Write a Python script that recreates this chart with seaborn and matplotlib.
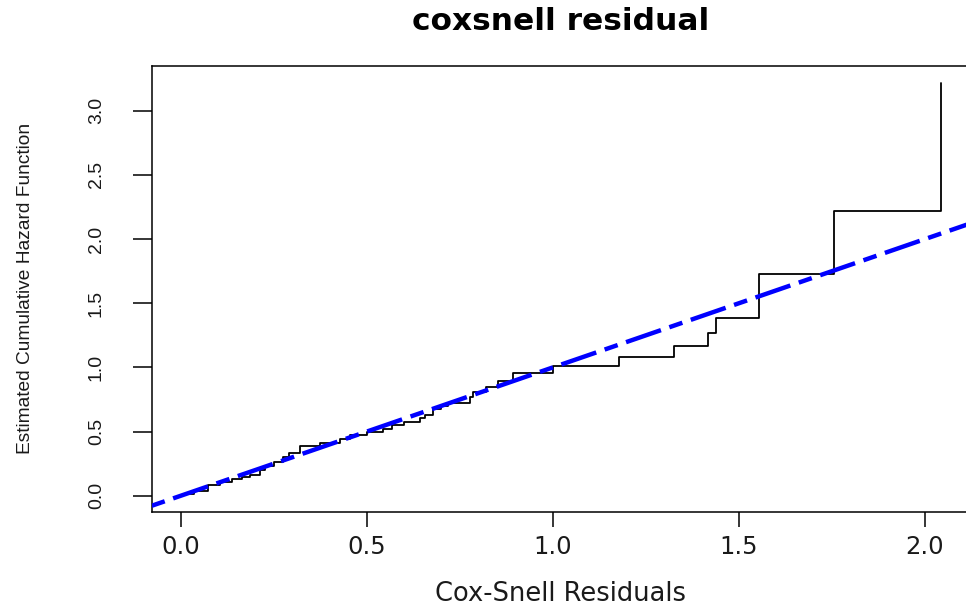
import matplotlib
matplotlib.use("Agg")
import matplotlib.pyplot as plt
from matplotlib import font_manager
import seaborn as sns

# Nelson-Aalen style cumulative hazard of the Cox-Snell residuals
residual_times = [0.010, 0.035, 0.073, 0.105, 0.136, 0.163, 0.185, 0.212, 0.225,
                  0.250, 0.275, 0.289, 0.320, 0.374, 0.427, 0.454, 0.499, 0.544,
                  0.566, 0.599, 0.642, 0.656, 0.677, 0.699, 0.719, 0.777, 0.786,
                  0.820, 0.853, 0.893, 1.001, 1.178, 1.325, 1.416, 1.437, 1.554,
                  1.756, 2.042]
cum_hazard = [0.010, 0.040, 0.083, 0.110, 0.128, 0.146, 0.161, 0.200, 0.230,
              0.265, 0.299, 0.335, 0.387, 0.408, 0.440, 0.470, 0.500, 0.523,
              0.551, 0.577, 0.603, 0.629, 0.673, 0.699, 0.725, 0.772, 0.811,
              0.850, 0.896, 0.954, 1.011, 1.083, 1.167, 1.266, 1.387, 1.726,
              2.221, 3.219]

x_ticks = [0.0, 0.5, 1.0, 1.5, 2.0]
x_tick_labels = ["0.0", "0.5", "1.0", "1.5", "2.0"]
y_ticks = [0.0, 0.5, 1.0, 1.5, 2.0, 2.5, 3.0]
y_tick_labels = ["0.0", "0.5", "1.0", "1.5", "2.0", "2.5", "3.0"]

title = "coxsnell residual"
x_label = "Cox-Snell Residuals"
y_label = "Estimated Cumulative Hazard Function"

sns.set_style("white")
plt.rcParams["font.family"] = ["DejaVu Sans"]

available = {f.name for f in font_manager.fontManager.ttflist}
if "Liberation Sans Narrow" in available:
    vfamily, ytick_size, ylabel_size = "Liberation Sans Narrow", 15.5, 16.5
else:
    vfamily, ytick_size, ylabel_size = "Liberation Sans", 14.0, 13.8

W, H = 966, 607
left_px, right_px, top_px, bottom_px = 151.7, 970.0, 66.0, 511.7

fig = plt.figure(figsize=(W / 100, H / 100), dpi=100)
fig.patch.set_facecolor("white")
ax = fig.add_axes([left_px / W, 1 - bottom_px / H,
                   (right_px - left_px) / W, (bottom_px - top_px) / H])
ax.set_facecolor("white")

# step curve of the estimated cumulative hazard
sns.lineplot(x=residual_times, y=cum_hazard, drawstyle="steps-post",
             color="black", linewidth=1.3, estimator=None, sort=False,
             ax=ax, zorder=2)

# reference line H(t) = t
ax.axline((0, 0), slope=1, color="#0000ff", linewidth=3.2,
          linestyle=(0, (3.1, 2.0, 8.3, 2.0)), zorder=3)

ax.set_xlim(-0.0788, 2.121)
ax.set_ylim(-0.125, 3.349)

ax.set_xticks(x_ticks)
ax.set_xticklabels(x_tick_labels)
ax.set_yticks(y_ticks)
ax.set_yticklabels(y_tick_labels, rotation=90, va="center")

ax.tick_params(axis="x", direction="out", length=10.8, width=1.1,
               pad=5.8, labelsize=17.5, colors="black", bottom=True)
ax.tick_params(axis="y", direction="out", length=13.7, width=1.1,
               pad=20, labelsize=ytick_size, colors="black", left=True)
for lab in ax.get_yticklabels():
    lab.set_fontfamily(vfamily)
    lab.set_color("#1a1a1a")
for lab in ax.get_xticklabels():
    lab.set_color("#1a1a1a")

for sp in ax.spines.values():
    sp.set_visible(True)
    sp.set_color("black")
    sp.set_linewidth(1.1)

ax.set_title(title, fontweight="bold", fontsize=22.5, pad=26, color="black")
ax.set_xlabel(x_label, fontsize=18.5, va="center", color="#1a1a1a")
ax.xaxis.set_label_coords(0.5, -0.185)
ax.set_ylabel(y_label, fontsize=ylabel_size, fontfamily=vfamily,
              va="center", color="#1a1a1a")
ax.yaxis.set_label_coords((26 - left_px) / (right_px - left_px), 0.5)

fig.savefig("out.png", dpi=100, facecolor="white")
